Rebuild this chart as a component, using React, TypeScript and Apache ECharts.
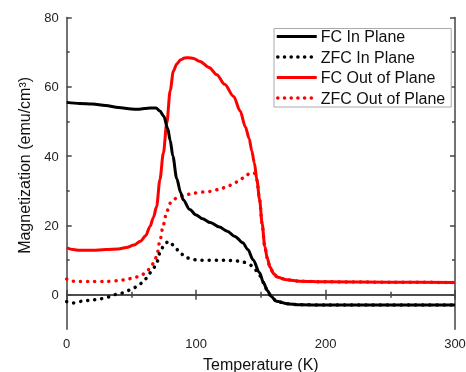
import React, { useEffect, useRef } from "react";
import * as echarts from "echarts";

const seriesNames = ["FC In Plane", "ZFC In Plane", "FC Out of Plane", "ZFC Out of Plane"];

const fcInPlane: [number, number][] = [
  [0, 55.5], [10, 55.2], [20, 55.0], [30, 54.6], [40, 54.0], [50, 53.6], [55, 53.5], [60, 53.7],
  [65, 53.9], [69, 53.9], [72, 53.0], [75, 51.5], [78, 48], [80, 44.5], [82, 40], [85, 33.5],
  [88, 29.5], [90, 27.4], [95, 24.6], [100, 23.0], [105, 21.9], [111, 20.8], [118, 19.5],
  [124, 18.3], [130, 16.8], [136, 15], [140, 13], [144, 10.1], [149, 6.3], [152, 3.5],
  [155, 1.2], [158, -0.5], [162, -1.9], [170, -2.6], [180, -2.9], [200, -3], [250, -3], [300, -3],
];

const zfcInPlane: [number, number][] = [
  [0, -2], [5, -2.4], [12, -1.9], [20, -1.5], [26, -1.2], [32, -0.7], [37, 0], [42, 0.4],
  [46, 1], [52, 2], [57, 3.2], [61, 4.6], [64, 6.2], [67, 7.6], [69.5, 9.2], [72, 12],
  [75, 14.2], [78.5, 15.4], [81, 14.6], [84, 13.5], [88, 11.8], [93, 10.6], [98, 10.1],
  [103, 9.9], [110, 9.9], [117, 9.9], [124, 9.9], [130, 9.8], [136.5, 9.4], [141.7, 8.6],
  [145, 7.5], [148, 6.3], [150, 5.2], [152, 3.5], [155, 1.2], [158, -0.5], [162, -1.9],
  [170, -2.6], [180, -2.9], [200, -3], [250, -3], [300, -3],
];

const fcOutPlane: [number, number][] = [
  [0, 13.5], [5, 13], [10, 12.8], [20, 12.8], [30, 13], [40, 13.2], [46, 13.6], [52, 14.3],
  [57, 15.4], [61, 17], [64.4, 19.7], [67, 22.3], [69.5, 25.5], [72, 33.2], [74.7, 40.9],
  [77.3, 49.5], [80, 59], [82.4, 64.5], [85, 66.6], [88, 67.8], [91, 68.3], [94, 68.4],
  [98, 68.2], [103, 67.3], [110, 65.6], [116, 63.5], [122, 60.7], [129, 57.2], [134, 53],
  [138, 48.5], [141, 45], [143, 41.5], [145, 38], [147, 33], [149, 27.5], [151, 20.5],
  [153, 14], [155, 10.5], [157, 8], [160, 6], [163, 5], [170, 4.3], [180, 3.9], [200, 3.7],
  [250, 3.6], [300, 3.5],
];

const zfcOutPlane: [number, number][] = [
  [0, 4.5], [4, 3.9], [10, 3.8], [20, 3.8], [30, 3.8], [40, 4.0], [46, 4.4], [52, 4.9],
  [57, 5.4], [61, 6.3], [64, 7.4], [67, 9], [69.5, 11], [72, 15.5], [74.7, 20.2], [77.3, 24],
  [80, 26.4], [85, 27.9], [90, 28.6], [98, 29.3], [105, 29.6], [111, 29.8], [118, 30.4],
  [124, 31.2], [130, 32.3], [134, 33.2], [139, 34.6], [142, 35], [145, 35.1], [147, 33],
  [149, 27.5], [151, 20.5], [153, 14], [155, 10.5], [157, 8], [160, 6], [163, 5], [170, 4.3],
  [180, 3.9], [200, 3.7], [250, 3.6], [300, 3.5],
];

const xMin = 0;
const xMax = 300;
const xInterval = 100;
const yMin = -10;
const yMax = 80;
const yMajorTicks = [0, 20, 40, 60, 80];
const yMinorTicks = [10, 30, 50, 70];

const FONT = "'Liberation Sans', Arial, sans-serif";
const AXIS_COLOR = "#444";

export default function App() {
  const ref = useRef<HTMLDivElement>(null);
  useEffect(() => {
    if (!ref.current) return;
    const chart = echarts.init(ref.current, undefined, { renderer: "svg" });
    const axisLine = { show: true, lineStyle: { color: AXIS_COLOR, width: 1.5 } };
    const yBase = (position: string, ticks: number[], len: number, extra: any = {}) => ({
      type: "value",
      position,
      min: yMin,
      max: yMax,
      axisLine,
      splitLine: { show: false },
      axisTick: { show: true, inside: true, length: len, customValues: ticks, lineStyle: { color: AXIS_COLOR, width: 1.5 } },
      axisLabel: { show: false },
      ...extra,
    });
    const xBase = (position: string, extra: any = {}) => ({
      type: "value",
      position,
      min: xMin,
      max: xMax,
      interval: xInterval,
      axisLine,
      splitLine: { show: false },
      axisTick: { show: true, inside: true, length: 5, lineStyle: { color: AXIS_COLOR, width: 1.5 } },
      minorTick: { show: true, splitNumber: 2, length: 3, lineStyle: { color: AXIS_COLOR, width: 1.5 } },
      axisLabel: { show: false },
      ...extra,
    });
    const solid = (color: string) => ({ color, width: 3 });
    const dotted = (color: string) => ({ color, width: 3.5, type: [0.1, 7], cap: "round" });
    const styles = [solid("#000"), dotted("#000"), solid("#ff0000"), dotted("#ff0000")];
    const legendDotted = (color: string) => ({ color, width: 3.5, type: [0.1, 6.6], cap: "round", dashOffset: -1.5 });
    const legendStyles = [solid("#000"), legendDotted("#000"), solid("#ff0000"), legendDotted("#ff0000")];
    const mk = (i: number, data: [number, number][], color: string, z: number) => ({
      name: seriesNames[i],
      type: "line",
      data,
      showSymbol: false,
      symbol: "none",
      smooth: 0.3,
      smoothMonotone: "x",
      color,
      lineStyle: styles[i],
      z,
      xAxisIndex: 0,
      yAxisIndex: 0,
    });
    chart.setOption({
      animation: false,
      textStyle: { fontFamily: FONT },
      grid: { left: 66.7, right: 11, top: 17.5, bottom: 42.7, containLabel: false, outerBoundsMode: "none" },
      legend: {
        data: seriesNames.map((name, i) => ({ name, lineStyle: legendStyles[i] })),
        orient: "vertical",
        left: 274,
        top: 28.5,
        itemWidth: 40,
        itemHeight: 14,
        itemGap: 4.5,
        padding: [0, 6, 1, 1],
        itemStyle: { opacity: 0 },
        borderColor: "#aaa",
        borderWidth: 1,
        backgroundColor: "#fff",
        textStyle: { fontSize: 16, color: "#111", fontFamily: FONT, padding: [0, 0, 0, -1] },
      },
      xAxis: [
        xBase("bottom", {
          axisLabel: { show: true, fontSize: 13, color: "#222", margin: 7.5, fontFamily: FONT },
          name: "Temperature (K)",
          nameLocation: "middle",
          nameGap: 27,
          nameTextStyle: { fontSize: 16, color: "#111", fontFamily: FONT },
        }),
        xBase("top"),
      ],
      yAxis: [
        yBase("left", yMajorTicks, 5, {
          axisLabel: { show: true, customValues: yMajorTicks, fontSize: 13, color: "#222", margin: 8, fontFamily: FONT },
          name: "Magnetization (emu/cm³)",
          nameLocation: "middle",
          nameGap: 34,
          nameTextStyle: { fontSize: 16, color: "#111", fontFamily: FONT, padding: [0, 0, 0, 16] },
        }),
        yBase("left", yMinorTicks, 3, { axisLine: { show: false } }),
        yBase("right", yMajorTicks, 5),
        yBase("right", yMinorTicks, 3, { axisLine: { show: false } }),
      ],
      series: [
        mk(0, fcInPlane, "#000", 4),
        mk(1, zfcInPlane, "#000", 3),
        mk(2, fcOutPlane, "#ff0000", 2),
        mk(3, zfcOutPlane, "#ff0000", 1),
      ],
    });
    return () => chart.dispose();
  }, []);
  return <div ref={ref} style={{ position: "fixed", left: 0, top: 0, width: 466, height: 372 }} />;
}
